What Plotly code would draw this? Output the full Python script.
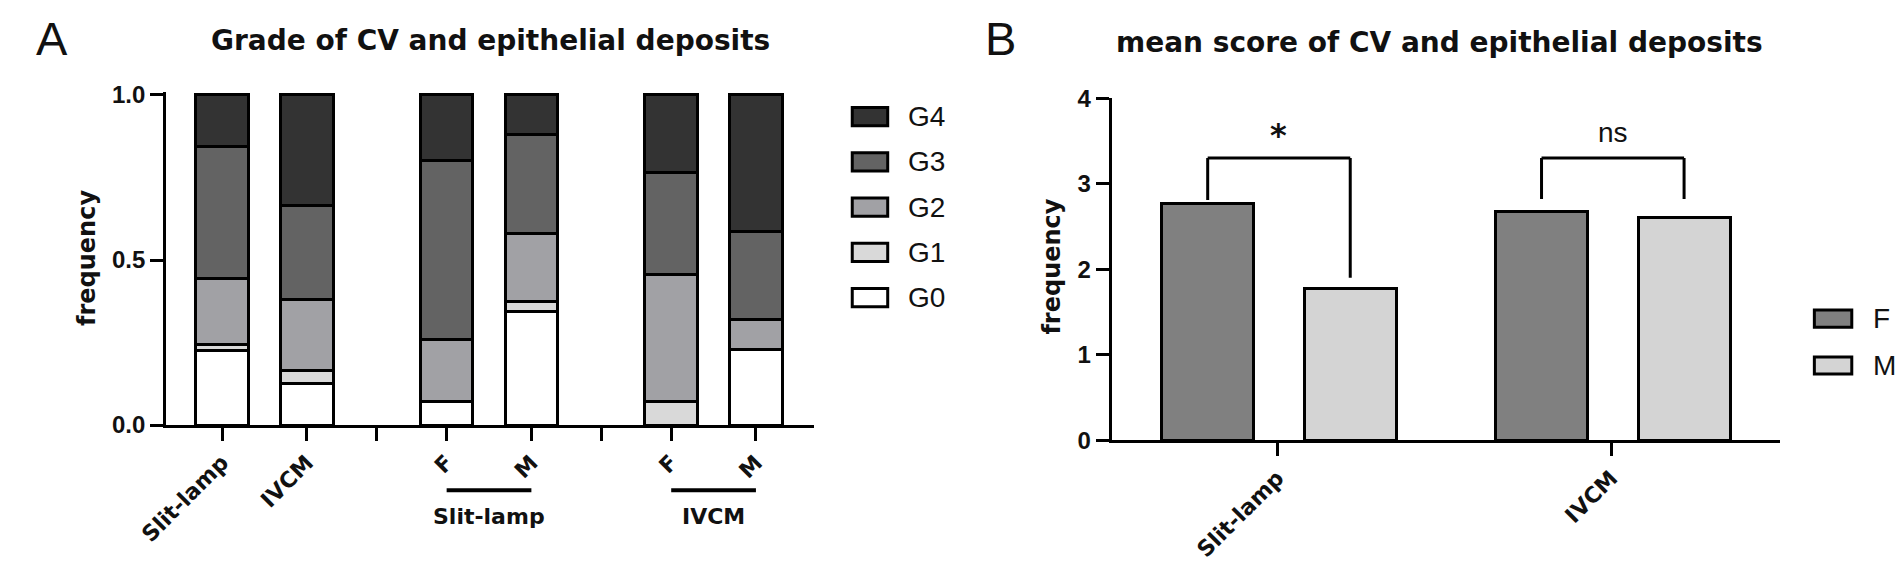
import plotly.graph_objects as go

W, H = 1902, 570

# ---------------- data ----------------
grades = ["G0", "G1", "G2", "G3", "G4"]
cats_A = ["Slit-lamp", "IVCM", "F", "M", "F", "M"]
group_A = [0, 0, 1, 1, 2, 2]
sub_group_names = ["Slit-lamp", "IVCM"]          # labels for groups 1 and 2
G0 = [0.225, 0.125, 0.07, 0.345, 0.00, 0.23]
G1 = [0.020, 0.040, 0.00, 0.030, 0.07, 0.00]
G2 = [0.200, 0.215, 0.19, 0.205, 0.385, 0.09]
G3 = [0.400, 0.285, 0.54, 0.300, 0.31, 0.265]
G4 = [0.155, 0.335, 0.20, 0.120, 0.235, 0.415]
grade_values = [G0, G1, G2, G3, G4]

cats_B = ["Slit-lamp", "IVCM"]
sex = ["F", "M"]
mean_F = [2.77, 2.68]
mean_M = [1.78, 2.61]
sig_labels = ["*", "ns"]
bracket_top = [3.30, 3.30]
bracket_F_end = [2.81, 2.82]
bracket_M_end = [1.90, 2.82]

# ---------------- style ----------------
grade_colors = ["#ffffff", "#d9d9d9", "#a1a1a5", "#636363", "#333333"]
sex_colors = ["#808080", "#d4d4d4"]
BOLD = "DejaVu Sans"
ARIAL = "Liberation Sans"
REG = "Liberation Sans"
INK = "#111111"


def fx(p):
    return p / W


def fy(p):
    return 1 - p / H


group_gap = 0.65
pos_A = [i + g * group_gap for i, g in enumerate(group_A)]
gap_ticks = [(pos_A[1] + pos_A[2]) / 2, (pos_A[3] + pos_A[4]) / 2]
bar_w_A = 0.62

off_F, off_M, bar_w_B = -0.209, 0.218, 0.276
pos_F = [i + off_F for i in range(len(cats_B))]
pos_M = [i + off_M for i in range(len(cats_B))]

fig = go.Figure()

for name, vals, col in zip(grades, grade_values, grade_colors):
    fig.add_trace(go.Bar(
        x=pos_A, y=vals, width=bar_w_A, name=name,
        marker=dict(color=col, line=dict(color="#000000", width=3)),
        xaxis="x", yaxis="y", showlegend=False, hoverinfo="skip"))

for name, xs, vals, col in zip(sex, [pos_F, pos_M], [mean_F, mean_M], sex_colors):
    fig.add_trace(go.Bar(
        x=xs, y=vals, width=bar_w_B, name=name,
        marker=dict(color=col, line=dict(color="#000000", width=3)),
        xaxis="x2", yaxis="y2", showlegend=False, hoverinfo="skip"))

axis_common = dict(showline=True, linewidth=3, linecolor="#000000", ticks="outside",
                   ticklen=13, tickwidth=3, tickcolor="#000000", showgrid=False,
                   zeroline=False, fixedrange=True)
xfont = dict(family=BOLD, size=22, color=INK, weight="bold")
yfont = dict(family=ARIAL, size=24, color=INK, weight="bold")

fig.update_layout(
    width=W, height=H, autosize=False,
    margin=dict(l=0, r=0, t=0, b=0),
    paper_bgcolor="white", plot_bgcolor="white",
    barmode="stack",
    xaxis=dict(domain=[fx(139.3), fx(796.7)], range=[-0.66, 6.98], anchor="y",
               tickvals=pos_A + gap_ticks, ticktext=cats_A + ["", ""], tickangle=-45,
               tickfont=xfont, **axis_common),
    yaxis=dict(domain=[fy(431.5), fy(82.2)], range=[0, 1.008], anchor="x",
               tickvals=[0, 0.5, 1.0], ticktext=["0.0", "0.5", "1.0"],
               tickfont=yfont, **axis_common),
    xaxis2=dict(domain=[fx(1099.3), fx(1778)], range=[-0.497, 1.505], anchor="y2",
                tickvals=list(range(len(cats_B))), ticktext=cats_B, tickangle=-45,
                tickfont=xfont, **axis_common),
    yaxis2=dict(domain=[fy(447.7), fy(88.3)], range=[0, 4], anchor="x2",
                tickvals=[0, 1, 2, 3, 4], tickfont=yfont, **axis_common),
)

shapes = []
ann = []

# panel letters and titles
ann.append(dict(text="A", x=fx(5), y=fy(26), xref="paper", yref="paper", xanchor="left",
                yanchor="middle", showarrow=False, font=dict(family=REG, size=47, color=INK)))
ann.append(dict(text="B", x=fx(969), y=fy(26), xref="paper", yref="paper", xanchor="left",
                yanchor="middle", showarrow=False, font=dict(family=REG, size=47, color=INK)))
ann.append(dict(text="Grade of CV and epithelial deposits", x=fx(183), y=fy(28),
                xref="paper", yref="paper", xanchor="left", yanchor="middle", showarrow=False,
                font=dict(family=BOLD, size=28, color=INK, weight="bold")))
ann.append(dict(text="mean score of CV and epithelial deposits", x=fx(1102), y=fy(30),
                xref="paper", yref="paper", xanchor="left", yanchor="middle", showarrow=False,
                font=dict(family=BOLD, size=28, color=INK, weight="bold")))

# y-axis titles
ann.append(dict(text="frequency", x=fx(59), y=fy(256), xref="paper", yref="paper",
                textangle=-90, showarrow=False, xanchor="center", yanchor="middle",
                font=dict(family=BOLD, size=24, color=INK, weight="bold")))
ann.append(dict(text="frequency", x=fx(1039), y=fy(265), xref="paper", yref="paper",
                textangle=-90, showarrow=False, xanchor="center", yanchor="middle",
                font=dict(family=BOLD, size=24, color=INK, weight="bold")))

# group underlines and labels in panel A
for gi, gname in enumerate(sub_group_names, start=1):
    xs = [p for p, g in zip(pos_A, group_A) if g == gi]
    shapes.append(dict(type="line", xref="x", yref="paper", x0=min(xs), x1=max(xs),
                       y0=fy(500), y1=fy(500), line=dict(color="#000000", width=4)))
    ann.append(dict(text=gname, x=(min(xs) + max(xs)) / 2, y=fy(528), xref="x", yref="paper",
                    xanchor="center", yanchor="middle", showarrow=False, font=xfont))

# legend A (manual, large swatches)
for k, gi in enumerate(reversed(range(len(grades)))):
    cy = 107.7 + k * 47.5
    shapes.append(dict(type="rect", xref="paper", yref="paper", x0=fx(836), x1=fx(872),
                       y0=fy(cy + 9.5), y1=fy(cy - 9.5), fillcolor=grade_colors[gi],
                       line=dict(color="#000000", width=3)))
    ann.append(dict(text=grades[gi], x=fx(891), y=fy(cy), xref="paper", yref="paper",
                    xanchor="left", yanchor="middle", showarrow=False,
                    font=dict(family=REG, size=28, color=INK)))

# legend B
for k, (name, col) in enumerate(zip(sex, sex_colors)):
    cy = 319.7 + k * 49.3
    shapes.append(dict(type="rect", xref="paper", yref="paper", x0=fx(1813), x1=fx(1851),
                       y0=fy(cy + 9), y1=fy(cy - 9), fillcolor=col,
                       line=dict(color="#000000", width=3)))
    ann.append(dict(text=name, x=fx(1871), y=fy(cy), xref="paper", yref="paper",
                    xanchor="left", yanchor="middle", showarrow=False,
                    font=dict(family=REG, size=28, color=INK)))

# significance brackets in panel B
for i in range(len(cats_B)):
    xl, xr, top = pos_F[i], pos_M[i], bracket_top[i]
    for x0, y0, x1, y1 in [(xl, bracket_F_end[i], xl, top), (xl, top, xr, top),
                           (xr, top, xr, bracket_M_end[i])]:
        shapes.append(dict(type="line", xref="x2", yref="y2", x0=x0, y0=y0, x1=x1, y1=y1,
                           line=dict(color="#000000", width=3)))
    is_star = sig_labels[i] == "*"
    ann.append(dict(text=sig_labels[i], x=(xl + xr) / 2, y=top, xref="x2", yref="y2",
                    xanchor="center", yanchor="bottom", showarrow=False,
                    yshift=2 if is_star else 8,
                    font=dict(family=BOLD if is_star else REG, size=32 if is_star else 28,
                              color=INK, weight="bold" if is_star else "normal")))

fig.update_layout(shapes=shapes, annotations=ann)

fig.write_html("out.html", config={"displayModeBar": False, "staticPlot": True},
               post_script="document.body.style.margin='0';document.body.style.overflow='hidden';")
